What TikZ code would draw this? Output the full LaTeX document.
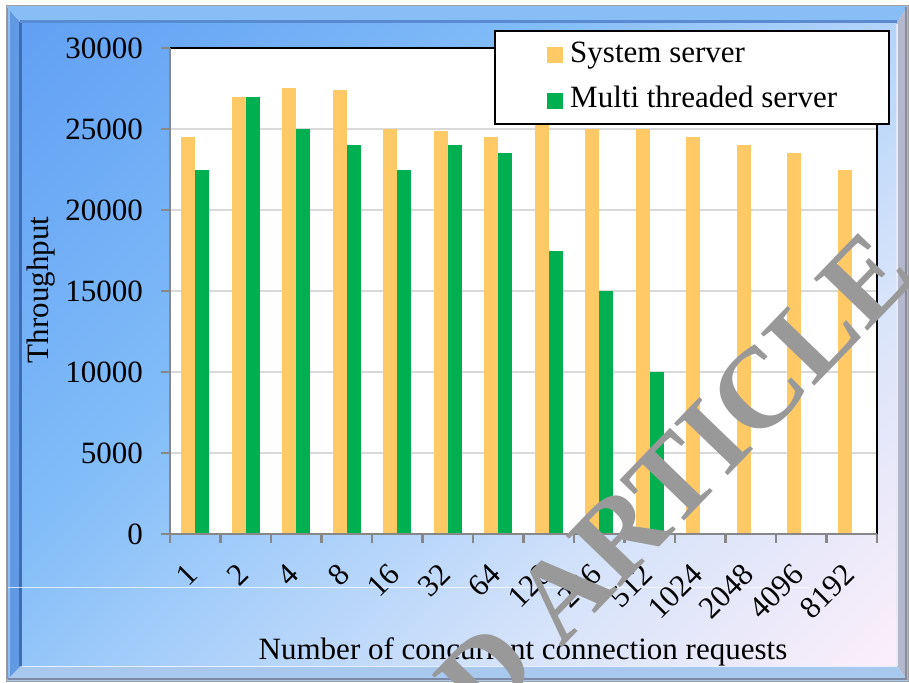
\documentclass[tikz,border=0pt]{standalone}
\usepackage{fontspec}
\setmainfont{Liberation Serif}
\definecolor{sysbar}{HTML}{FFC966}
\definecolor{mtbar}{HTML}{00AF50}
\definecolor{axisgray}{HTML}{878787}
\definecolor{gridgray}{HTML}{D9D9D9}
\definecolor{wmgray}{HTML}{999999}
\definecolor{pA}{HTML}{62A0F4}
\definecolor{pB}{HTML}{80BCF8}
\definecolor{pC}{HTML}{AAD0FA}
\definecolor{pD}{HTML}{D8E4FA}
\definecolor{pE}{HTML}{FBEEFA}
\definecolor{bevL}{HTML}{6299E3}
\definecolor{bevT}{HTML}{88BEF6}
\definecolor{bevR}{HTML}{B4B8CC}
\definecolor{bevB}{HTML}{A8C8EE}
\definecolor{bevLdark}{HTML}{3E6CB5}
\definecolor{bevLlight}{HTML}{8FBDF5}
\definecolor{bevTdark}{HTML}{5A8AD0}
\definecolor{bevBlight}{HTML}{E6F0FF}
\definecolor{bevBdark}{HTML}{7C8AA8}
\definecolor{bevRlight}{HTML}{E8EAF8}
\definecolor{bevRdark}{HTML}{8A8A9A}
\definecolor{outergray}{HTML}{A0A0A0}
\pgfdeclarehorizontalshading{panelshade}{100bp}{color(0bp)=(pA); color(15bp)=(pA); color(38bp)=(pB); color(52bp)=(pC); color(68bp)=(pD); color(85bp)=(pE); color(100bp)=(pE)}
\tikzset{
  lbl/.style={font=\fontsize{31}{37}\selectfont, inner sep=0pt},
  wm/.style={font=\fontsize{114}{126}\selectfont\bfseries, text=wmgray, inner sep=0pt},
  axisline/.style={draw=axisgray, line width=2.6pt},
  gridline/.style={draw=gridgray, line width=2pt},
}
% values are given in thousands
\newcommand{\yv}[1]{534-#1*16.2}
\begin{document}
\begin{tikzpicture}[x=1pt, y=-1pt]
\useasboundingbox (0,0) rectangle (909,682);
\fill[white] (0,0) rectangle (909,682);
\begin{scope}
\clip (0,0) rectangle (909,682);
% bevelled frame
\fill[bevL] (6,6) -- (22,24) -- (22,665) -- (6,681) -- cycle;
\fill[bevT] (6,6) -- (908,6) -- (896,24) -- (22,24) -- cycle;
\fill[bevR] (908,6) -- (896,24) -- (896,665) -- (908,681) -- cycle;
\fill[bevB] (6,681) -- (22,665) -- (896,665) -- (908,681) -- cycle;
\draw[bevLdark, line width=3pt] (20,22) -- (20,666);
\draw[bevLlight, line width=1.5pt] (9,9) -- (9,678);
\draw[bevTdark, line width=3pt] (20,22) -- (897,22);
\draw[bevBlight, line width=1.5pt] (22,666) -- (897,666);
\draw[bevBdark, line width=2pt] (8,679) -- (907,679);
\draw[bevRlight, line width=1.5pt] (897,24) -- (897,666);
\draw[bevRdark, line width=2pt] (906,7) -- (906,680);
\draw[outergray, line width=1pt] (6,6) rectangle (908,681);
% panel
\shade[shading=panelshade, shading angle=-45] (22,24) rectangle (896,665);
\draw[white, opacity=0.7, line width=1pt] (8,587) -- (810,587);
% plot area
\fill[white] (170,48) rectangle (877,534);
\foreach \g in {5,10,15,20,25}
  \draw[gridline] (170,{\yv{\g}}) -- (877,{\yv{\g}});
% System server bars
\foreach \v [count=\i from 0] in {24.5,27,27.5,27.4,25,24.9,24.5,25.8,25,25,24.5,24,23.5,22.45}
  \fill[sysbar] ({170+\i*50.5+11},{\yv{\v}}) rectangle ({170+\i*50.5+25},534);
% Multi threaded server bars
\foreach \v [count=\i from 0] in {22.5,27,25,24,22.5,24,23.5,17.5,15,10}
  \fill[mtbar] ({170+\i*50.5+25},{\yv{\v}}) rectangle ({170+\i*50.5+39},534);
\draw[black, line width=2pt] (170,48) -- (877,48) -- (877,534);
\draw[axisline] (170,48) -- (170,534) -- (877,534);
\foreach \g in {0,5,...,30}
  \draw[axisline] (161,{\yv{\g}}) -- (170,{\yv{\g}});
\foreach \i in {0,...,14}
  \draw[axisline] ({170+\i*50.5},534) -- ({170+\i*50.5},543);
% value axis labels
\foreach \g/\t in {0/0,5/5000,10/10000,15/15000,20/20000,25/25000,30/30000}
  \node[lbl, anchor=east] (yl\g) at (143,{\yv{\g}}) {\t};
\node[lbl, rotate=90] (ytitle) at (41,290) {Throughput};
% category labels
\foreach \l [count=\i from 0] in {1,2,4,8,16,32,64,128,256,512,1024,2048,4096,8192}
  \node[lbl, anchor=east, rotate=45] (xl\i) at ({170+\i*50.5+22.75},569) {\l};
\node[lbl, anchor=base] (xtitle) at (523,659) {Number of concurrent connection requests};
% legend
\draw[fill=white, draw=black, line width=2pt] (495,31) rectangle (889,124);
\fill[sysbar] (547,47) rectangle (563,63);
\fill[mtbar] (547,93) rectangle (563,109);
\node[lbl, anchor=base west] (leg1) at (570,63) {System server};
\node[lbl, anchor=base west] (leg2) at (570,108) {Multi threaded server};
% watermark
\node[wm, anchor=base west, rotate=46] (wmark) at (561,649) {\llap{D\ }ARTICLE};
\end{scope}
\end{tikzpicture}
\end{document}
